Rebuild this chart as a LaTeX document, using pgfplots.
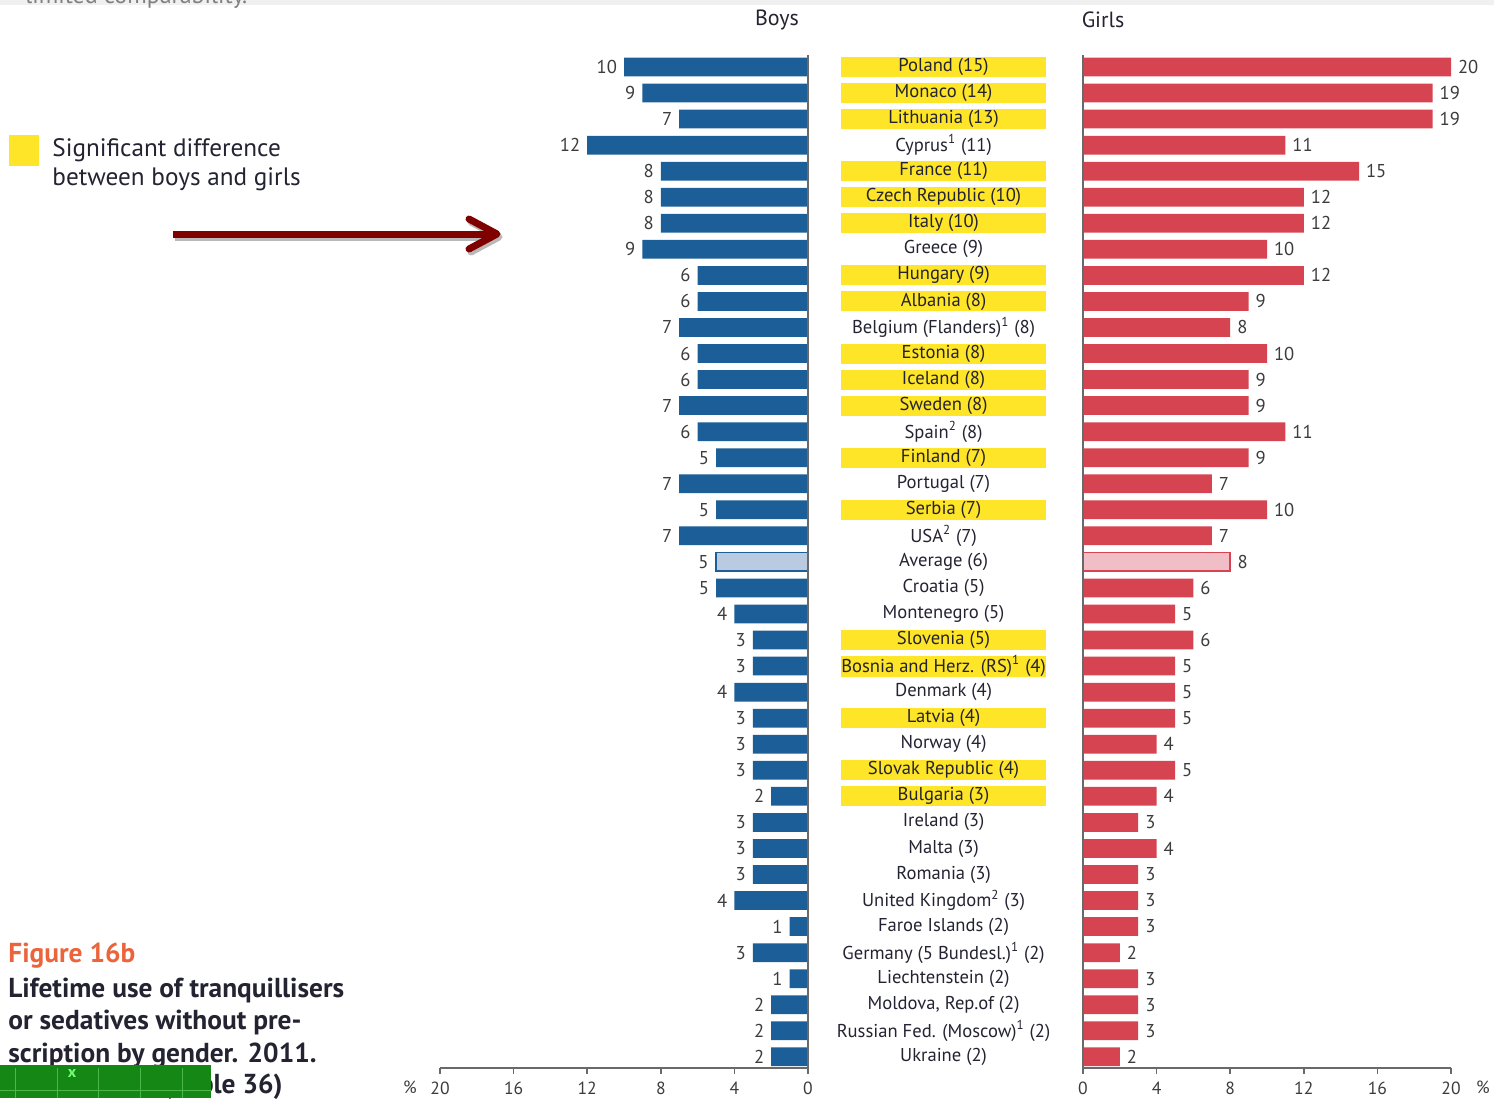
\documentclass[border=0pt]{standalone}
\usepackage{pgfplots}
\pgfplotsset{compat=1.18}
\usepackage{fontspec}
\setmainfont{PT Sans}
\definecolor{boyblue}{RGB}{27,94,152}
\definecolor{girlred}{RGB}{214,67,81}
\definecolor{sigyellow}{RGB}{255,229,40}
\definecolor{avgblue}{RGB}{185,202,225}
\definecolor{avgpink}{RGB}{241,190,200}
\definecolor{txt}{RGB}{35,35,50}
\definecolor{valgray}{RGB}{60,60,60}
\definecolor{axgray}{RGB}{105,105,105}
\definecolor{figorange}{RGB}{235,100,60}
\definecolor{arrowred}{RGB}{128,0,0}
\definecolor{boxgreen}{RGB}{20,135,20}
\newcommand{\labfont}{\fontsize{9.3}{11}\selectfont}
\newcommand{\valfont}{\fontsize{9.3}{11}\selectfont}
\newcommand{\tickfont}{\fontsize{8.8}{10}\selectfont}
\newcommand{\sig}[2]{\node[fill=sigyellow, minimum width=102.5pt, minimum height=10pt, inner sep=0pt, font=\labfont, text=txt] at (axis cs:-7.58,#1) {#2};}
\newcommand{\nsig}[2]{\node[minimum width=102.5pt, minimum height=10pt, inner sep=0pt, font=\labfont, text=txt] at (axis cs:-7.58,#1) {#2};}
\begin{document}
\begin{tikzpicture}
\useasboundingbox (0,0) rectangle (747pt,-549pt);
\begin{scope}[x=0.5pt,y=-0.5pt]
  % top strip
  \fill[gray!12] (0,0) rectangle (1494,5);
  \begin{scope}
    \clip (0,0) rectangle (1494,10);
    \node[anchor=base west, inner sep=0pt, font=\fontsize{12}{14}\selectfont, text=gray] at (25,3) {limited comparability.};
  \end{scope}
  % headings
  \node[font=\fontsize{11}{13}\selectfont, text=txt] at (777,20) {Boys};
  \node[font=\fontsize{11}{13}\selectfont, text=txt] at (1103,20) {Girls};
  % legend
  \fill[sigyellow] (9,135) rectangle (39,166);
  \node[anchor=base west, inner sep=0pt, font=\fontsize{12.6}{14}\selectfont, text=txt] at (52,156) {Significant difference};
  \node[anchor=base west, inner sep=0pt, font=\fontsize{12.6}{14}\selectfont, text=txt] at (52,185) {between boys and girls};
  % arrow shadow
  \draw[gray!55, line width=3.5pt] (175,237) -- (497,237);
  \draw[gray!55, line width=3.5pt, line cap=round, line join=round] (471,222) -- (499,237) -- (471,252);
  % arrow
  \draw[arrowred, line width=3.5pt] (173,234) -- (495,234);
  \draw[arrowred, line width=3.5pt, line cap=round, line join=round] (469,219) -- (497,234) -- (469,249);
  % caption
  \node[anchor=base west, inner sep=0pt, font=\bfseries\fontsize{13.7}{16}\selectfont, text=figorange] at (8,962) {Figure 16b};
  \node[anchor=base west, inner sep=0pt, font=\bfseries\fontsize{13.7}{16}\selectfont, text=txt] at (8,997) {Lifetime use of tranquillisers};
  \node[anchor=base west, inner sep=0pt, font=\bfseries\fontsize{13.7}{16}\selectfont, text=txt] at (8,1029) {or sedatives without pre-};
  \node[anchor=base west, inner sep=0pt, font=\bfseries\fontsize{13.7}{16}\selectfont, text=txt] at (8,1062) {scription by gender. 2011.};
  \node[anchor=base east, inner sep=0pt, font=\bfseries\fontsize{13.7}{16}\selectfont, text=txt] at (283,1093) {(Table 36)};
  % percent signs
  \node[font=\tickfont, text=valgray] at (410,1087) {\%};
  \node[font=\tickfont, text=valgray] at (1483,1087) {\%};
\end{scope}

% ---------------- Boys ----------------
\begin{axis}[at={(404pt,-534pt)}, anchor=south east, scale only axis,
  width=184pt, height=506.5pt,
  xmin=0, xmax=20, x dir=reverse, ymin=0.54, ymax=39.43, y dir=reverse,
  xbar, bar width=0.72, bar shift=0pt,
  axis x line*=bottom, axis y line=none,
  x axis line style={-, axgray, line width=1pt},
  xtick={0,4,...,20}, ytick=\empty,
  tick align=outside, major tick length=3pt,
  tick style={axgray, line width=0.8pt},
  xticklabel style={font=\tickfont, text=valgray, yshift=-0.3pt},
  /pgf/number format/assume math mode=true,
  clip=false,
  nodes near coords, nodes near coords align={left},
  every node near coord/.append style={font=\valfont, text=valgray},
]
\addplot[fill=boyblue, draw=none] coordinates {
(10,1) (9,2) (7,3) (12,4) (8,5) (8,6) (8,7) (9,8) (6,9) (6,10)
(7,11) (6,12) (6,13) (7,14) (6,15) (5,16) (7,17) (5,18) (7,19)
(5,21) (4,22) (3,23) (3,24) (4,25) (3,26) (3,27) (3,28) (2,29) (3,30)
(3,31) (3,32) (4,33) (1,34) (3,35) (1,36) (2,37) (2,38) (2,39)};
\addplot[fill=avgblue, draw=boyblue, line width=0.8pt] coordinates {(5,20)};
\draw[axgray, line width=1pt] (axis cs:0,0.54) -- (axis cs:0,39.43);
\end{axis}

% ---------------- Girls ----------------
\begin{axis}[at={(541.5pt,-534pt)}, anchor=south west, scale only axis,
  width=184pt, height=506.5pt,
  xmin=0, xmax=20, ymin=0.54, ymax=39.43, y dir=reverse,
  xbar, bar width=0.72, bar shift=0pt,
  axis x line*=bottom, axis y line=none,
  x axis line style={-, axgray, line width=1pt},
  xtick={0,4,...,20}, ytick=\empty,
  tick align=outside, major tick length=3pt,
  tick style={axgray, line width=0.8pt},
  xticklabel style={font=\tickfont, text=valgray, yshift=-0.3pt},
  /pgf/number format/assume math mode=true,
  clip=false,
  nodes near coords, nodes near coords align={right},
  every node near coord/.append style={font=\valfont, text=valgray},
]
\addplot[fill=girlred, draw=none] coordinates {
(20,1) (19,2) (19,3) (11,4) (15,5) (12,6) (12,7) (10,8) (12,9) (9,10)
(8,11) (10,12) (9,13) (9,14) (11,15) (9,16) (7,17) (10,18) (7,19)
(6,21) (5,22) (6,23) (5,24) (5,25) (5,26) (4,27) (5,28) (4,29) (3,30)
(4,31) (3,32) (3,33) (3,34) (2,35) (3,36) (3,37) (3,38) (2,39)};
\addplot[fill=avgpink, draw=girlred, line width=0.8pt] coordinates {(8,20)};
\draw[axgray, line width=1pt] (axis cs:0,0.54) -- (axis cs:0,39.43);
\sig{1}{Poland (15)}
\sig{2}{Monaco (14)}
\sig{3}{Lithuania (13)}
\nsig{4}{Cyprus\textsuperscript{1} (11)}
\sig{5}{France (11)}
\sig{6}{Czech Republic (10)}
\sig{7}{Italy (10)}
\nsig{8}{Greece (9)}
\sig{9}{Hungary (9)}
\sig{10}{Albania (8)}
\nsig{11}{Belgium (Flanders)\textsuperscript{1} (8)}
\sig{12}{Estonia (8)}
\sig{13}{Iceland (8)}
\sig{14}{Sweden (8)}
\nsig{15}{Spain\textsuperscript{2} (8)}
\sig{16}{Finland (7)}
\nsig{17}{Portugal (7)}
\sig{18}{Serbia (7)}
\nsig{19}{USA\textsuperscript{2} (7)}
\nsig{20}{Average (6)}
\nsig{21}{Croatia (5)}
\nsig{22}{Montenegro (5)}
\sig{23}{Slovenia (5)}
\sig{24}{Bosnia and Herz. (RS)\textsuperscript{1} (4)}
\nsig{25}{Denmark (4)}
\sig{26}{Latvia (4)}
\nsig{27}{Norway (4)}
\sig{28}{Slovak Republic (4)}
\sig{29}{Bulgaria (3)}
\nsig{30}{Ireland (3)}
\nsig{31}{Malta (3)}
\nsig{32}{Romania (3)}
\nsig{33}{United Kingdom\textsuperscript{2} (3)}
\nsig{34}{Faroe Islands (2)}
\nsig{35}{Germany (5 Bundesl.)\textsuperscript{1} (2)}
\nsig{36}{Liechtenstein (2)}
\nsig{37}{Moldova, Rep.of (2)}
\nsig{38}{Russian Fed. (Moscow)\textsuperscript{1} (2)}
\nsig{39}{Ukraine (2)}
\end{axis}

% green box overlay
\begin{scope}[x=0.5pt,y=-0.5pt]
  \fill[boxgreen] (0,1065) rectangle (211,1098);
  \foreach \xx in {15,57,98,140,182} {
    \draw[green!60!black!70, line width=0.4pt] (\xx,1068) -- (\xx,1098);
  }
  \draw[green!60!black!70, line width=0.4pt] (0,1090) -- (211,1090);
  \node[font=\bfseries\fontsize{8}{9}\selectfont, text=green!55!white] at (72,1073) {x};
\end{scope}
\end{tikzpicture}
\end{document}
